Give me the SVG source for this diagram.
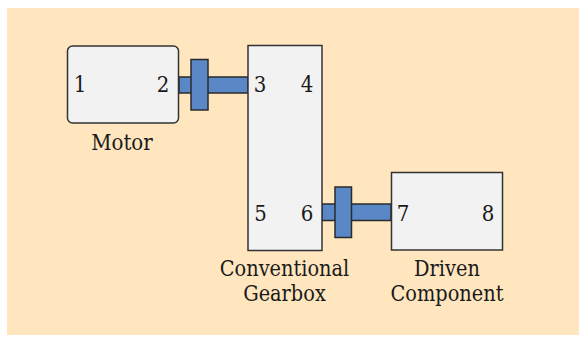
<svg xmlns="http://www.w3.org/2000/svg" width="580" height="337" viewBox="0 0 580 337">
<style>
.box{fill:#f2f2f2;stroke:#333;stroke-width:1.5}
.shaft{fill:#5a87c6;stroke:#2a2a2a;stroke-width:1.5}
text{font-family:"DejaVu Serif Condensed","DejaVu Serif",serif;font-stretch:condensed;fill:#1a1a1a;text-anchor:middle;font-size:22px}
.lbl{font-size:21.5px}
</style>
<rect x="7" y="8" width="572" height="327" fill="#ffe6bf"/>
<g id="connectors">
<rect class="shaft" x="179" y="77" width="69" height="16"/>
<rect class="shaft" x="191" y="59.5" width="17" height="50.5"/>
<rect class="shaft" x="322" y="204" width="69" height="16.5"/>
<rect class="shaft" x="335" y="187" width="16.5" height="50.5"/>
</g>
<g id="motor">
<rect class="box" x="67.5" y="46" width="111" height="77" rx="5"/>
<text x="80" y="92">1</text>
<text x="163" y="92">2</text>
<text x="122" y="150">Motor</text>
</g>
<g id="gearbox">
<rect class="box" x="248" y="45.5" width="74" height="205"/>
<text x="260" y="92">3</text>
<text x="307" y="92">4</text>
<text x="260.5" y="221">5</text>
<text x="307" y="221">6</text>
<text class="lbl" x="284.5" y="276">Conventional</text>
<text class="lbl" x="284.5" y="301">Gearbox</text>
</g>
<g id="driven">
<rect class="box" x="391.5" y="172.5" width="111" height="77.5"/>
<text x="403" y="221">7</text>
<text x="488" y="221">8</text>
<text class="lbl" x="447" y="276">Driven</text>
<text class="lbl" x="447" y="301">Component</text>
</g>
</svg>
